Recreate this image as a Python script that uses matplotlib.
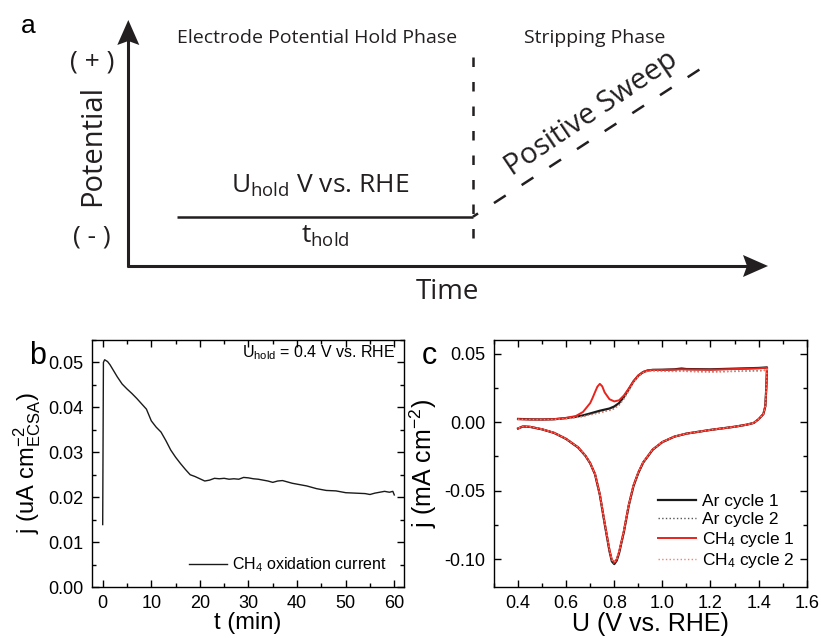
import matplotlib
matplotlib.use("Agg")
import matplotlib.pyplot as plt
from matplotlib.patches import Polygon
from matplotlib.ticker import MultipleLocator, FormatStrFormatter

plt.rcParams['font.family'] = ['Liberation Sans', 'DejaVu Sans']
plt.rcParams['axes.unicode_minus'] = False

INK = '#231f20'
SCHEME_FONT = ['Open Sans', 'DejaVu Sans']

# --- (b) current during the potential hold ---
t_min = [0.0, 0.15, 0.4, 0.7, 1.0, 1.5, 2.0, 3.0, 4.0, 5.0, 6.0, 7.0, 8.0, 9.0,
         10.0, 11.0, 12.0, 13.0, 14.0, 15.0, 16.0, 17.0, 18.0, 19.0, 20.0, 21.0,
         22.0, 23.0, 24.0, 25.0, 26.0, 27.0, 28.0, 29.0, 30.0, 31.0, 32.0, 33.0,
         34.0, 35.0, 36.0, 37.0, 38.0, 39.0, 40.0, 42.0, 44.0, 46.0, 48.0, 50.0,
         52.0, 54.0, 55.0, 56.0, 57.0, 58.0, 59.0, 59.7, 60.0]
j_hold = [0.0139, 0.0500, 0.0506, 0.0504, 0.0502, 0.0495, 0.0486, 0.0468, 0.0452,
          0.0441, 0.0431, 0.0420, 0.0408, 0.0396, 0.0370, 0.0356, 0.0345, 0.0326,
          0.0305, 0.0289, 0.0275, 0.0262, 0.0250, 0.0246, 0.0241, 0.0236, 0.0238,
          0.0242, 0.0241, 0.0242, 0.0240, 0.0241, 0.0240, 0.0244, 0.0243, 0.0241,
          0.0240, 0.0238, 0.0236, 0.0233, 0.0236, 0.0237, 0.0234, 0.0231, 0.0229,
          0.0225, 0.0219, 0.0215, 0.0214, 0.0210, 0.0209, 0.0208, 0.0206, 0.0209,
          0.0211, 0.0213, 0.0211, 0.0213, 0.0205]

# --- (c) stripping voltammograms ---
u_anodic = [0.400, 0.420, 0.450, 0.500, 0.550, 0.600, 0.640, 0.670, 0.700, 0.710,
            0.720, 0.730, 0.740, 0.750, 0.760, 0.780, 0.800, 0.820, 0.840, 0.860,
            0.880, 0.900, 0.920, 0.940, 0.960, 1.000, 1.050, 1.080, 1.100, 1.200,
            1.300, 1.400, 1.435]
j_ar1_an = [0.0024, 0.0023, 0.0021, 0.0020, 0.0022, 0.0030, 0.0040, 0.0050, 0.0064,
            0.0069, 0.0074, 0.0079, 0.0084, 0.0088, 0.0092, 0.0100, 0.0115, 0.0140,
            0.0185, 0.0240, 0.0298, 0.0340, 0.0366, 0.0378, 0.0382, 0.0383, 0.0386,
            0.0392, 0.0388, 0.0386, 0.0391, 0.0396, 0.0400]
j_ar2_an = [0.0022, 0.0021, 0.0019, 0.0018, 0.0020, 0.0027, 0.0035, 0.0043, 0.0055,
            0.0059, 0.0063, 0.0067, 0.0071, 0.0075, 0.0079, 0.0087, 0.0100, 0.0126,
            0.0172, 0.0230, 0.0290, 0.0335, 0.0362, 0.0374, 0.0376, 0.0374, 0.0372,
            0.0375, 0.0372, 0.0368, 0.0372, 0.0376, 0.0380]
j_ch41_an = [0.0022, 0.0021, 0.0020, 0.0020, 0.0022, 0.0032, 0.0045, 0.0075, 0.0140,
             0.0178, 0.0220, 0.0260, 0.0280, 0.0262, 0.0218, 0.0168, 0.0152, 0.0160,
             0.0195, 0.0245, 0.0300, 0.0342, 0.0367, 0.0379, 0.0382, 0.0382, 0.0384,
             0.0386, 0.0385, 0.0383, 0.0388, 0.0393, 0.0398]
j_ch42_an = [0.0021, 0.0020, 0.0019, 0.0018, 0.0020, 0.0026, 0.0034, 0.0042, 0.0053,
             0.0057, 0.0061, 0.0065, 0.0069, 0.0073, 0.0077, 0.0085, 0.0098, 0.0124,
             0.0170, 0.0228, 0.0288, 0.0333, 0.0360, 0.0372, 0.0374, 0.0372, 0.0370,
             0.0372, 0.0370, 0.0366, 0.0370, 0.0374, 0.0378]

u_cathodic = [1.435, 1.432, 1.428, 1.420, 1.400, 1.380, 1.350, 1.300, 1.200, 1.100,
              1.050, 1.000, 0.960, 0.920, 0.900, 0.880, 0.860, 0.840, 0.820, 0.810,
              0.800, 0.790, 0.780, 0.760, 0.740, 0.720, 0.700, 0.680, 0.650, 0.600,
              0.550, 0.500, 0.450, 0.420, 0.400]
j_ar_cat = [0.0400, 0.0250, 0.0117, 0.0060, 0.0022, -0.0005, -0.0018, -0.0033,
            -0.0056, -0.0083, -0.0105, -0.0145, -0.0200, -0.0295, -0.0370, -0.0465,
            -0.0610, -0.0800, -0.0955, -0.1010, -0.1035, -0.1015, -0.0940, -0.0740,
            -0.0530, -0.0380, -0.0300, -0.0245, -0.0185, -0.0122, -0.0078, -0.0052,
            -0.0034, -0.0031, -0.0046]
j_ch4_cat = [0.0398, 0.0250, 0.0117, 0.0060, 0.0022, -0.0005, -0.0018, -0.0033,
             -0.0056, -0.0083, -0.0105, -0.0144, -0.0198, -0.0292, -0.0365, -0.0460,
             -0.0603, -0.0792, -0.0945, -0.1000, -0.1022, -0.1003, -0.0930, -0.0732,
             -0.0525, -0.0377, -0.0298, -0.0243, -0.0183, -0.0121, -0.0077, -0.0051,
             -0.0033, -0.0030, -0.0045]

cv_labels = ['Ar cycle 1', 'Ar cycle 2', r'CH$\mathregular{_4}$ cycle 1',
             r'CH$\mathregular{_4}$ cycle 2']
cv_colors = ['#1a1a1a', '#555555', '#e8231c', '#f3826f']

fig = plt.figure(figsize=(8.21, 6.38), dpi=100)

# ---------------- (a) schematic, drawn in pixel units ----------------
axa = fig.add_axes([0, 1 - 310 / 638, 1, 310 / 638])
axa.set_xlim(0, 821)
axa.set_ylim(310, 0)
axa.axis('off')

origin = (128.3, 266.0)
y_tip = 20.0
x_tip = 768.0
axa.plot([origin[0], origin[0]], [origin[1] + 1.2, y_tip + 15], color=INK, lw=2.2,
         solid_capstyle='butt')
axa.plot([origin[0] - 1.2, x_tip - 15], [origin[1], origin[1]], color=INK, lw=2.2,
         solid_capstyle='butt')
axa.add_patch(Polygon([(origin[0], y_tip), (origin[0] + 11, y_tip + 25),
                       (origin[0], y_tip + 21), (origin[0] - 11, y_tip + 25)],
                      closed=True, color=INK, lw=0))
axa.add_patch(Polygon([(x_tip, origin[1]), (x_tip - 25, origin[1] - 11),
                       (x_tip - 21, origin[1]), (x_tip - 25, origin[1] + 11)],
                      closed=True, color=INK, lw=0))

hold_x = [177, 473]
hold_y = 216.7
sweep_end = (708, 64)
axa.plot(hold_x, [hold_y, hold_y], color=INK, lw=1.8, solid_capstyle='butt')
axa.plot([hold_x[1], hold_x[1]], [57, 245], color=INK, lw=1.8,
         linestyle=(0, (3.8, 6.0)), dash_capstyle='butt')
axa.plot([hold_x[1], sweep_end[0]], [hold_y, sweep_end[1]], color=INK, lw=1.8,
         linestyle=(3.2, (5.6, 7.6)), dash_capstyle='butt')

axa.text(28, 26, 'a', fontsize=19, ha='center', va='center')
axa.text(317, 38, 'Electrode Potential Hold Phase', fontsize=14, family=SCHEME_FONT,
         ha='center', va='center', color=INK)
axa.text(595, 38, 'Stripping Phase', fontsize=14, family=SCHEME_FONT,
         ha='center', va='center', color=INK)
axa.text(92, 62, '( + )', fontsize=19, family=SCHEME_FONT, ha='center', va='center',
         color=INK)
axa.text(92, 237, '( - )', fontsize=19, family=SCHEME_FONT, ha='center', va='center',
         color=INK)
axa.text(93, 145, 'Potential', fontsize=21, family=SCHEME_FONT, rotation=90,
         ha='center', va='center', color=INK)
axa.text(320, 193, r'U$\mathregular{_{hold}}$ V vs. RHE', fontsize=19,
         family=SCHEME_FONT, ha='center', va='baseline', color=INK)
axa.text(325, 236, r't$\mathregular{_{hold}}$', fontsize=19, family=SCHEME_FONT,
         ha='center', va='center', color=INK)
axa.text(447, 292, 'Time', fontsize=20, family=SCHEME_FONT, ha='center',
         va='center', color=INK)
axa.text(591, 114, 'Positive Sweep', fontsize=21, family=SCHEME_FONT, rotation=34,
         rotation_mode='anchor', ha='center', va='center', color=INK)


def style_axes(ax, xmaj, xmin, ymaj, ymin):
    ax.xaxis.set_major_locator(MultipleLocator(xmaj))
    ax.xaxis.set_minor_locator(MultipleLocator(xmin))
    ax.yaxis.set_major_locator(MultipleLocator(ymaj))
    ax.yaxis.set_minor_locator(MultipleLocator(ymin))
    ax.tick_params(which='both', direction='in', top=True, right=True, width=1)
    ax.tick_params(which='major', length=5, labelsize=13, pad=6)
    ax.tick_params(which='minor', length=3)
    for sp in ax.spines.values():
        sp.set_linewidth(1)


# ---------------- (b) hold current ----------------
axb = fig.add_axes([92 / 821, 51 / 638, 312 / 821, 247 / 638])
axb.plot(t_min, j_hold, color='#1a1a1a', lw=1.0,
         label=r'CH$\mathregular{_4}$ oxidation current')
axb.set_xlim(-2.2, 62)
axb.set_ylim(0, 0.055)
style_axes(axb, 10, 5, 0.01, 0.005)
axb.xaxis.set_major_formatter(FormatStrFormatter('%d'))
axb.yaxis.set_major_formatter(FormatStrFormatter('%.2f'))
axb.set_xlabel('t (min)', fontsize=17, labelpad=0)
axb.set_ylabel(r'j (uA cm$\mathregular{^{-2}_{ECSA}}$)', fontsize=17, labelpad=4)
axb.text(0.971, 0.947, r'U$\mathregular{_{hold}}$ = 0.4 V vs. RHE', fontsize=11.5,
         ha='right', va='center', transform=axb.transAxes)
axb.legend(loc='center left', bbox_to_anchor=(0.31, 0.09), frameon=False,
           fontsize=11.5, handlelength=2.4, handletextpad=0.3, borderpad=0,
           borderaxespad=0)
fig.text(38 / 821, 1 - 356 / 638, 'b', fontsize=22, ha='center', va='center')

# ---------------- (c) stripping CVs ----------------
axc = fig.add_axes([494 / 821, 51.3 / 638, 312.7 / 821, 246.7 / 638])
cycles = [(j_ar1_an, j_ar_cat, '-', 1.6), (j_ar2_an, j_ar_cat, ':', 1.0),
          (j_ch41_an, j_ch4_cat, '-', 1.4), (j_ch42_an, j_ch4_cat, ':', 1.0)]
for (an, cat, ls, lw), lab, col in zip(cycles, cv_labels, cv_colors):
    axc.plot(u_anodic + u_cathodic, an + cat, color=col, ls=ls, lw=lw, label=lab)
axc.set_xlim(0.3, 1.6)
axc.set_ylim(-0.12, 0.06)
style_axes(axc, 0.2, 0.1, 0.05, 0.025)
axc.xaxis.set_major_formatter(FormatStrFormatter('%.1f'))
axc.yaxis.set_major_formatter(FormatStrFormatter('%.2f'))
axc.set_xlabel('U (V vs. RHE)', fontsize=18, labelpad=0)
axc.set_ylabel(r'j (mA cm$\mathregular{^{-2}}$)', fontsize=18, labelpad=4)
axc.legend(loc='upper left', bbox_to_anchor=(0.525, 0.375), frameon=False,
           fontsize=12.5, handlelength=2.2, handletextpad=0.3, labelspacing=0.15,
           borderpad=0, borderaxespad=0)
fig.text(429 / 821, 1 - 356 / 638, 'c', fontsize=22, ha='center', va='center')

fig.savefig('out.png', dpi=100)
